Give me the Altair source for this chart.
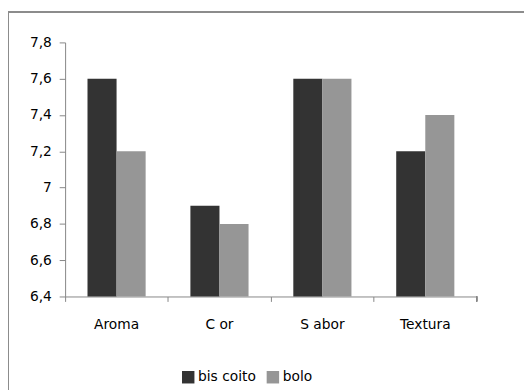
import altair as alt
import pandas as pd

categories = ["Aroma", "C or", "S abor", "Textura"]
series = ["bis coito", "bolo"]
biscoito = [7.6, 6.9, 7.6, 7.2]
bolo = [7.2, 6.8, 7.6, 7.4]
colors = ["#333333", "#969696"]

rows = []
for i, c in enumerate(categories):
    rows.append({"cat": c, "serie": series[0], "v": biscoito[i]})
    rows.append({"cat": c, "serie": series[1], "v": bolo[i]})
df = pd.DataFrame(rows)

W, H = 418, 258
FONT = "DejaVu Sans"
FS = 14

bars = alt.Chart(df).mark_bar(clip=True).encode(
    x=alt.X("cat:N", sort=categories, title=None,
            scale=alt.Scale(paddingInner=0, paddingOuter=0),
            axis=alt.Axis(labelAngle=0, bandPosition=0, domainColor="#868686",
                          tickColor="#868686", tickSize=5, labelPadding=17,
                          labelFontSize=FS, labelColor="#000000", labelFont=FONT)),
    xOffset=alt.XOffset("serie:N", sort=series,
                        scale=alt.Scale(paddingInner=0, paddingOuter=0.77)),
    y=alt.Y("v:Q", title=None,
            scale=alt.Scale(domain=[6.4, 7.8], zero=False, nice=False),
            axis=alt.Axis(values=[6.4, 6.6, 6.8, 7.0, 7.2, 7.4, 7.6, 7.8],
                          labelExpr="replace(format(datum.value, '.1~f'), '.', ',')",
                          grid=False, domainColor="#868686", tickColor="#868686",
                          tickSize=6, labelPadding=8, labelFontSize=FS,
                          labelColor="#000000", labelFont=FONT)),
    color=alt.Color("serie:N", sort=series,
                    scale=alt.Scale(domain=series, range=colors),
                    legend=alt.Legend(title=None, orient="none", direction="horizontal",
                                      legendX=118, legendY=333, symbolType="square",
                                      symbolSize=160, symbolStrokeWidth=0,
                                      labelFontSize=FS, labelFont=FONT,
                                      labelColor="#000000", columnPadding=10,
                                      labelOffset=3)),
)

end_tick = alt.Chart(df).mark_rule(color="#868686").encode(
    x=alt.value(W), y=alt.value(H), y2=alt.value(H + 5)
)

frame = alt.Chart(df).mark_rect(fill=None, stroke="#8c8c8c", strokeWidth=2, clip=False).encode(
    x=alt.value(-58), x2=alt.value(700), y=alt.value(-31), y2=alt.value(600)
)

chart = alt.layer(frame, bars, end_tick).properties(
    width=W, height=H,
    background="white",
    autosize=alt.AutoSizeParams(type="none"),
    padding={"left": 58, "top": 32, "right": 48, "bottom": 92},
).configure_view(stroke=None)

chart.save("out.html", embed_options={"renderer": "svg", "actions": False})
